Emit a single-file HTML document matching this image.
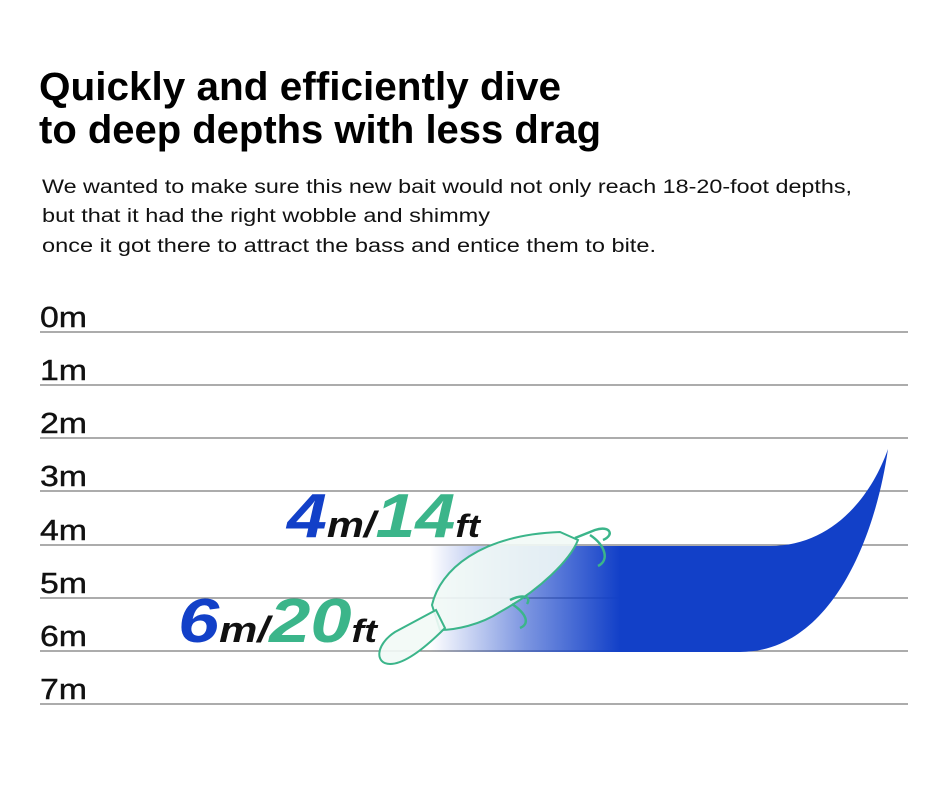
<!DOCTYPE html>
<html><head><meta charset="utf-8"><style>
html,body{margin:0;padding:0;background:#fff;}
svg{display:block;}
</style></head><body>
<svg width="950" height="810" viewBox="0 0 950 810" xmlns="http://www.w3.org/2000/svg" font-family="Liberation Sans, sans-serif">
<defs>
<linearGradient id="g" x1="430" y1="0" x2="620" y2="0" gradientUnits="userSpaceOnUse">
<stop offset="0" stop-color="#1240c8" stop-opacity="0"/>
<stop offset="0.5" stop-color="#1240c8" stop-opacity="0.55"/>
<stop offset="1" stop-color="#1240c8" stop-opacity="1"/>
</linearGradient>
</defs>
<rect width="950" height="810" fill="#fff"/>
<text x="39" y="100" font-size="40" font-weight="bold" textLength="522" lengthAdjust="spacingAndGlyphs">Quickly and efficiently dive</text>
<text x="39" y="143" font-size="40" font-weight="bold" textLength="562" lengthAdjust="spacingAndGlyphs">to deep depths with less drag</text>
<g font-size="19" fill="#111">
<text x="42" y="193" textLength="810" lengthAdjust="spacingAndGlyphs">We wanted to make sure this new bait would not only reach 18-20-foot depths,</text>
<text x="42" y="222" textLength="448" lengthAdjust="spacingAndGlyphs">but that it had the right wobble and shimmy</text>
<text x="42" y="252" textLength="614" lengthAdjust="spacingAndGlyphs">once it got there to attract the bass and entice them to bite.</text>
</g>
<g stroke="#7a7a7a" stroke-width="1.2">
<line x1="40" y1="332" x2="908" y2="332"/>
<line x1="40" y1="385" x2="908" y2="385"/>
<line x1="40" y1="438" x2="908" y2="438"/>
<line x1="40" y1="491" x2="908" y2="491"/>
<line x1="40" y1="545" x2="908" y2="545"/>
<line x1="40" y1="598" x2="908" y2="598"/>
<line x1="40" y1="651" x2="908" y2="651"/>
<line x1="40" y1="704" x2="908" y2="704"/>
</g>
<g font-size="29" fill="#111" stroke="#111" stroke-width="0.4">
<text x="40" y="327" textLength="47" lengthAdjust="spacingAndGlyphs">0m</text>
<text x="40" y="380" textLength="47" lengthAdjust="spacingAndGlyphs">1m</text>
<text x="40" y="433" textLength="47" lengthAdjust="spacingAndGlyphs">2m</text>
<text x="40" y="486" textLength="47" lengthAdjust="spacingAndGlyphs">3m</text>
<text x="40" y="540" textLength="47" lengthAdjust="spacingAndGlyphs">4m</text>
<text x="40" y="593" textLength="47" lengthAdjust="spacingAndGlyphs">5m</text>
<text x="40" y="646" textLength="47" lengthAdjust="spacingAndGlyphs">6m</text>
<text x="40" y="699" textLength="47" lengthAdjust="spacingAndGlyphs">7m</text>
</g>
<path d="M430,546 L770,546 C830,546 870,500 888,449 C875,540 830,652 740,652 L430,652 Z" fill="url(#g)"/>
<g font-weight="bold" font-style="italic">
<text x="287" y="537" textLength="193" lengthAdjust="spacingAndGlyphs"><tspan font-size="62" fill="#1240c8">4</tspan><tspan font-size="36" fill="#111">m/</tspan><tspan font-size="62" fill="#3bb58a">14</tspan><tspan font-size="32" fill="#111">ft</tspan></text>
<text x="178" y="642" textLength="199" lengthAdjust="spacingAndGlyphs"><tspan font-size="62" fill="#1240c8">6</tspan><tspan font-size="36" fill="#111">m/</tspan><tspan font-size="62" fill="#3bb58a">20</tspan><tspan font-size="32" fill="#111">ft</tspan></text>
</g>
<g fill="#f2faf6" fill-opacity="0.9" stroke="#3bb58a" stroke-width="2">
<path d="M432,605 C440,570 480,535 560,532 L578,540 C570,560 540,590 500,612 C480,625 455,630 440,630 Z"/>
<path d="M436,610 L395,632 C375,645 375,664 390,664 C405,664 425,648 445,628 Z"/>
</g>
<g fill="none" stroke="#3bb58a" stroke-width="2.5">
<path d="M575,538 L595,530 C610,525 615,535 603,540 M590,535 C605,545 610,560 598,566"/>
<path d="M510,600 C522,594 532,596 527,604 M512,604 C527,614 530,624 520,628"/>
</g>
</svg>
</body></html>
